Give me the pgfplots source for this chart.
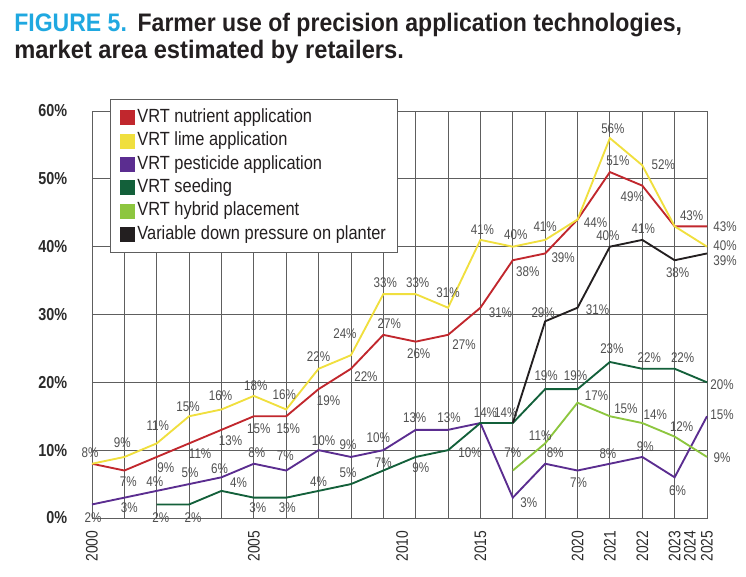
\documentclass[border=0pt]{standalone}
\usepackage{pgfplots}
\pgfplotsset{compat=1.18}
\usepackage{pgfplotstable}
\usepackage{fontspec}
\setmainfont{Liberation Sans}
\newfontfamily\cf[FakeStretch=0.83]{Liberation Sans}
\newfontfamily\lf[FakeStretch=0.86]{Liberation Sans}
\newfontfamily\titlefont[FakeStretch=0.91]{Liberation Sans}
\newfontfamily\titlefontb[FakeStretch=0.935]{Liberation Sans}

\definecolor{cred}{HTML}{C1272D}
\definecolor{cyel}{HTML}{F0DF3E}
\definecolor{cpur}{HTML}{5B2D90}
\definecolor{cdgr}{HTML}{13603A}
\definecolor{clgr}{HTML}{8DC63F}
\definecolor{cblk}{HTML}{231F20}
\definecolor{ctitle}{HTML}{1FA8E0}
\definecolor{cgrid}{HTML}{5E5E5E}
\definecolor{clab}{HTML}{505050}
\definecolor{ctick}{HTML}{2B2B2B}

\pgfplotstableread{
x y
0 8
1 7
2 9
3 11
4 13
5 15
6 15
7 19
8 22
9 27
10 26
11 27
12 31
13 38
14 39
15 44
16 51
17 49
18 43
19 43
}\nutrient

\pgfplotstableread{
x y
0 8
1 9
2 11
3 15
4 16
5 18
6 16
7 22
8 24
9 33
10 33
11 31
12 41
13 40
14 41
15 44
16 56
17 52
18 43
19 40
}\lime

\pgfplotstableread{
x y
0 2
1 3
2 4
3 5
4 6
5 8
6 7
7 10
8 9
9 10
10 13
11 13
12 14
13 3
14 8
15 7
16 8
17 9
18 6
19 15
}\pesticide

\pgfplotstableread{
x y
2 2
3 2
4 4
5 3
6 3
7 4
8 5
9 7
10 9
11 10
12 14
13 14
14 19
15 19
16 23
17 22
18 22
19 20
}\seeding

\pgfplotstableread{
x y
13 7
14 11
15 17
16 15
17 14
18 12
19 9
}\hybrid

\pgfplotstableread{
x y
13 14
14 29
15 31
16 40
17 41
18 38
19 39
}\downpressure

% value labels: x, value, offset right (px), offset up (px)
\pgfplotstableread{
x y dx dy
0 8 -2 11
0 2 1 -13
1 9 -2 14
1 7 4 -11.5
1 3 5 -10
2 11 1 18
2 9 9 -11
2 4 -2 9
2 2 4 -13
3 15 -1 10
3 11 11 -10
3 5 1 11
3 2 4 -13
4 16 -1 14
4 13 9 -11
4 6 -2 9
4 4 17 8
5 18 2 10
5 15 5 -12
5 8 3 11
5 3 4 -10
6 16 -2 15
6 15 2 -12
6 7 -1 15
6 3 1 -10
7 22 0 12
7 19 10 -12
7 10 5 9
7 4 0 9
8 24 -6 22
8 22 15 -8
8 9 -3 12
8 5 -3 11
9 33 2 11
9 27 6 11
9 10 -5 12
9 7 0 8
10 33 2 11
10 26 3 -12
10 13 -1 12
10 9 5 -11
11 31 0 15
11 27 16 -10
11 13 1 12
11 10 22 -3
12 41 2 10
12 31 20 -5
12 14 5 10
13 14 -7 10
13 40 3 12
13 38 15 -11
13 3 16 -5
13 7 0 18
14 41 0 13
14 39 18 -4
14 29 -2 9
14 19 1 13
14 11 -5 8
14 8 10 11
15 44 18 -3
15 31 20 -2
15 19 -2 13
15 17 19 7
15 7 1 -12
16 56 3 9
16 51 8 11
16 40 -2 11
16 23 2 13
16 15 16 8
16 8 -2 10
17 52 21 1
17 49 -10 -11
17 41 1 11
17 22 7 11
17 14 13 8
17 9 3 10
18 43 17 11
18 38 3 -12
18 22 8 11
18 12 7 10
18 6 3 -13
19 43 18 0
19 40 18 1
19 39 18 -7
19 20 15 -2
19 15 15 2
19 9 15 -1
}\labels

\begin{document}
\begin{tikzpicture}[x=1pt,y=1pt]
\path[use as bounding box] (-69,-43.5) rectangle (490.5,388.5);
\node[anchor=base west, inner sep=0pt, text=cblk,
  font=\titlefont\bfseries\fontsize{19}{21}\selectfont] at (-58.5,364.5)
  {\textcolor{ctitle}{FIGURE 5.}\hspace{0.42em}Farmer use of precision application technologies,};
\node[anchor=base west, inner sep=0pt, text=cblk,
  font=\titlefontb\bfseries\fontsize{19}{21}\selectfont] at (-58.5,344.6)
  {market area estimated by retailers.};
\begin{axis}[
  at={(0pt,0pt)}, anchor=south west,
  scale only axis, width=461.25pt, height=305.25pt,
  xmin=0, xmax=19, ymin=0, ymax=60,
  xtick={0,5,9.58,12,15,16,17,18,18.47,19},
  xticklabels={2000,2005,2010,2015,2020,2021,2022,2023,2024,2025},
  minor xtick={0,1,...,19},
  ytick={0,10,...,60},
  yticklabel={\pgfmathprintnumber{\tick}\%},
  /pgf/number format/assume math mode=true,
  xmajorgrids=false, xminorgrids=true, ymajorgrids=true,
  grid style={cgrid, line width=0.6pt},
  minor grid style={cgrid, line width=0.6pt},
  major tick length=0pt, minor tick length=0pt,
  axis line style={cgrid, line width=0.6pt},
  xticklabel style={rotate=90, anchor=east, text=ctick,
    font=\cf\fontsize{12.5}{14}\selectfont},
  yticklabel style={anchor=east, text=ctick,
    font=\cf\bfseries\fontsize{13}{15}\selectfont},
  xticklabel shift=6pt, yticklabel shift=15pt,
  clip=false,
  legend cell align=left,
  legend style={at={(0.0293,1.0295)}, anchor=north west,
    draw=cgrid, line width=0.8pt, fill=white,
    font=\lf\fontsize{14.3}{16}\selectfont, text=cblk,
    inner xsep=7pt, inner ysep=5pt, row sep=0pt,
    nodes={inner ysep=2.25pt, text height=10pt, text depth=3pt}},
  legend image code/.code={\fill[#1] (0pt,-4.9pt) rectangle (9.75pt,4.9pt);},
  every axis plot/.append style={line width=1.4pt, mark=none},
]
\addplot[color=cred] table[x=x,y=y] {\nutrient};
\addlegendentry{VRT nutrient application}
\addplot[color=cyel] table[x=x,y=y] {\lime};
\addlegendentry{VRT lime application}
\addplot[color=cpur] table[x=x,y=y] {\pesticide};
\addlegendentry{VRT pesticide application}
\addplot[color=cdgr] table[x=x,y=y] {\seeding};
\addlegendentry{VRT seeding}
\addplot[color=clgr] table[x=x,y=y] {\hybrid};
\addlegendentry{VRT hybrid placement}
\addplot[color=cblk] table[x=x,y=y] {\downpressure};
\addlegendentry{Variable down pressure on planter}
\addplot[draw=none, forget plot, point meta=y,
  visualization depends on={\thisrow{dx} \as \labdx},
  visualization depends on={\thisrow{dy} \as \labdy},
  nodes near coords={\pgfmathprintnumber{\pgfplotspointmeta}\%},
  nodes near coords align={center},
  every node near coord/.append style={anchor=center, inner sep=0pt,
    text=clab, font=\cf\fontsize{10.5}{12}\selectfont,
    xshift={\labdx*0.75pt}, yshift={\labdy*0.75pt}},
] table[x=x,y=y] {\labels};
\end{axis}
\end{tikzpicture}
\end{document}
